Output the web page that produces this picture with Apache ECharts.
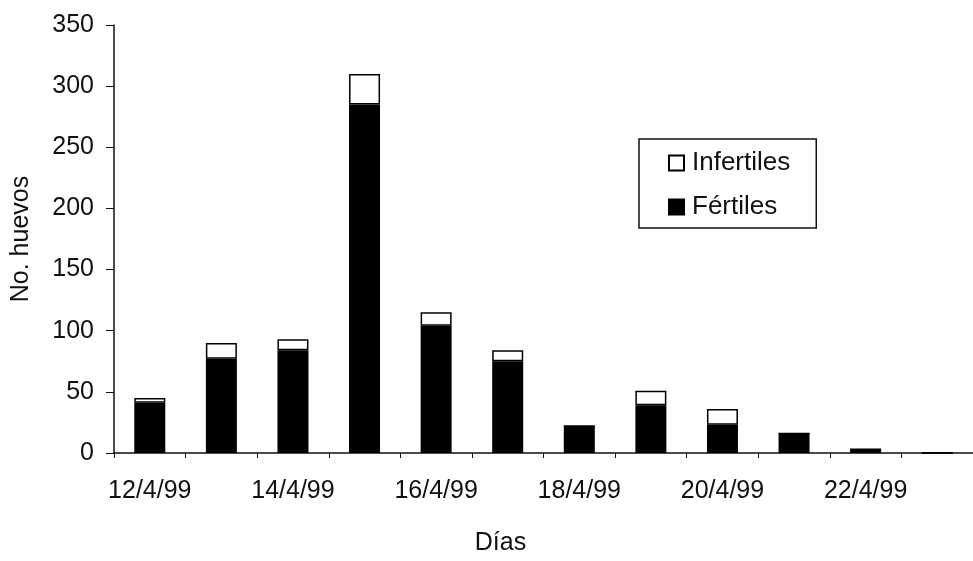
<!DOCTYPE html>
<html>
<head>
<meta charset="utf-8">
<script src="https://cdn.jsdelivr.net/npm/echarts@6/dist/echarts.min.js"></script>
<style>
  html, body { margin: 0; padding: 0; background: #fff; }
  #chart { width: 973px; height: 561px; }
</style>
</head>
<body>
<div id="chart"></div>
<script>
// Daily egg counts, April 1999
const days = ['12/4/99', '13/4/99', '14/4/99', '15/4/99', '16/4/99', '17/4/99',
              '18/4/99', '19/4/99', '20/4/99', '21/4/99', '22/4/99', '23/4/99'];
const fertiles   = [41, 77, 84, 285, 104, 75, 22, 39, 23, 16, 3, 0];
const infertiles = [4, 13, 9, 25, 11, 9, 0, 12, 13, 0, 0, 0];
const yTicks = { min: 0, max: 350, interval: 50 };

const FONT = '"Liberation Sans", Arial, sans-serif';
const INK = '#111';

const chart = echarts.init(document.getElementById('chart'), null, { renderer: 'canvas' });

chart.setOption({
  animation: false,
  backgroundColor: '#fff',
  textStyle: { fontFamily: FONT, color: INK },
  grid: { left: 114, top: 25, width: 866, height: 438, containLabel: false },
  legend: {
    data: ['Infertiles', 'Fértiles'],
    orient: 'vertical',
    left: 639,
    top: 139,
    padding: [11, 26, 8, 29],
    itemGap: 18,
    itemWidth: 15,
    itemHeight: 15,
    icon: 'rect',
    borderColor: INK,
    borderWidth: 1.5,
    textStyle: { fontFamily: FONT, fontSize: 26, color: INK, lineHeight: 25, padding: [0, 0, 0, 3] }
  },
  xAxis: {
    type: 'category',
    data: days,
    boundaryGap: true,
    name: 'Días',
    nameLocation: 'middle',
    nameGap: 78,
    nameTextStyle: { fontFamily: FONT, fontSize: 25, color: INK, padding: [0, 86, 0, 0] },
    axisLine: { show: true, lineStyle: { color: INK, width: 1.5 } },
    axisTick: { show: true, alignWithLabel: false, interval: 0, length: 5, lineStyle: { color: INK, width: 1 } },
    axisLabel: { interval: 1, margin: 26, fontFamily: FONT, fontSize: 25, color: INK },
    splitLine: { show: false }
  },
  yAxis: {
    type: 'value',
    min: yTicks.min,
    max: yTicks.max,
    interval: yTicks.interval,
    name: 'No. huevos',
    nameLocation: 'middle',
    nameGap: 80,
    nameTextStyle: { fontFamily: FONT, fontSize: 25, color: INK },
    axisLine: { show: true, lineStyle: { color: INK, width: 1.5 } },
    axisTick: { show: true, length: 8, inside: false, lineStyle: { color: INK, width: 1 } },
    axisLabel: { margin: 20, fontFamily: FONT, fontSize: 25, color: INK },
    splitLine: { show: false }
  },
  series: [
    {
      name: 'Fértiles',
      type: 'bar',
      stack: 'huevos',
      data: fertiles,
      barWidth: 31,
      itemStyle: { color: '#000', borderColor: '#000', borderWidth: 1.5 }
    },
    {
      name: 'Infertiles',
      type: 'bar',
      stack: 'huevos',
      data: infertiles,
      barWidth: 31,
      itemStyle: { color: '#fff', borderColor: '#000', borderWidth: 1.5 }
    }
  ]
});
</script>
</body>
</html>
